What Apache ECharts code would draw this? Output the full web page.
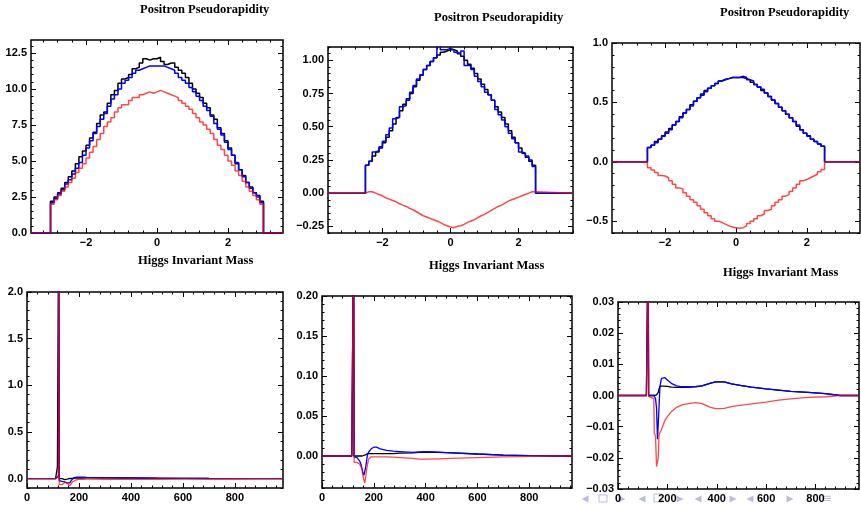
<!DOCTYPE html>
<html>
<head>
<meta charset="utf-8">
<script src="https://cdn.jsdelivr.net/npm/echarts@6/dist/echarts.min.js"></script>
<style>
  html, body { margin: 0; padding: 0; background: #fff; }
  #chart { width: 861px; height: 505px; }
</style>
</head>
<body>
<div id="chart"></div>
<script>
// ---------- Positron pseudorapidity histograms (bin width 0.1) ----------
const etaBinWidth = 0.1;

// column 1: bins from -3.0 to 3.0
const eta1Start = -3.0;
const eta1Black = [2.2,2.5,2.8,3.1,3.5,3.9,4.3,4.8,5.3,5.7, 6.1,6.6,7.0,7.6,8.2,8.4,9.0,9.6,9.9,10.4,
                   10.7,10.8,11.0,11.4,11.5,11.8,12.1,12.0,12.1,12.1, 12.2,11.9,11.7,11.8,11.8,11.5,11.3,11.1,10.8,10.4,
                   10.0,9.7,9.4,9.0,8.7,8.2,7.9,7.3,6.9,6.4, 5.9,5.4,4.8,4.4,4.0,3.5,3.2,2.8,2.6,2.2];
const eta1Blue  = [2.1,2.4,2.7,3.0,3.4,3.7,4.1,4.5,4.9,5.4, 5.9,6.4,6.9,7.4,7.9,8.3,8.8,9.3,9.6,10.0,
                   10.4,10.6,10.8,11.1,11.3,11.4,11.5,11.6,11.6,11.6, 11.6,11.6,11.5,11.4,11.3,11.1,10.8,10.6,10.4,10.1,
                   9.8,9.5,9.2,8.8,8.5,8.1,7.6,7.2,6.8,6.3, 5.8,5.4,4.9,4.4,3.9,3.5,3.1,2.8,2.5,2.1];
const eta1Red   = [2.0,2.3,2.6,2.9,3.2,3.5,3.8,4.2,4.5,4.8, 5.2,5.6,6.0,6.5,6.9,7.4,7.7,8.0,8.4,8.7,
                   8.9,8.9,9.2,9.4,9.4,9.6,9.7,9.8,9.7,9.8, 9.9,9.8,9.7,9.6,9.5,9.4,9.2,9.0,8.8,8.6,
                   8.3,8.0,7.7,7.5,7.2,6.9,6.5,6.1,5.8,5.4, 5.0,4.7,4.3,4.0,3.6,3.2,2.9,2.6,2.3,2.0];

// column 2: bins from -2.5 to 2.5
const eta2Start = -2.5;
const eta2Black = [0.21,0.24,0.28,0.31,0.34,0.38,0.42,0.47,0.52,0.57, 0.62,0.67,0.71,0.75,0.80,0.85,0.89,0.93,0.96,0.99,
                   1.02,1.04,1.06,1.07,1.08,1.08,1.07,1.05,1.03,1.00, 0.97,0.94,0.90,0.86,0.82,0.78,0.74,0.70,0.65,0.61,
                   0.57,0.52,0.47,0.42,0.38,0.34,0.30,0.27,0.24,0.21];
const eta2Blue  = [0.21,0.24,0.31,0.32,0.35,0.39,0.44,0.49,0.56,0.57, 0.65,0.66,0.70,0.76,0.81,0.86,0.89,0.93,0.96,0.99,
                   1.02,1.13,1.08,1.08,1.09,1.08,1.06,1.05,1.07,0.96, 0.96,0.93,0.88,0.84,0.80,0.76,0.74,0.70,0.63,0.59,
                   0.55,0.50,0.45,0.41,0.38,0.31,0.30,0.28,0.25,0.20];
const eta2Red   = [0.01,0.01,0.0,-0.01,-0.02,-0.035,-0.045,-0.055,-0.065,-0.08, -0.09,-0.10,-0.115,-0.125,-0.14,-0.155,-0.17,-0.18,-0.19,-0.20,
                   -0.21,-0.22,-0.235,-0.245,-0.255,-0.26,-0.25,-0.245,-0.235,-0.22, -0.21,-0.20,-0.185,-0.17,-0.16,-0.145,-0.13,-0.115,-0.10,-0.09,
                   -0.075,-0.06,-0.05,-0.04,-0.03,-0.02,-0.01,0.0,0.01,0.01];

// column 3: bins from -2.5 to 2.5
const eta3Start = -2.5;
const eta3Black = [0.12,0.14,0.17,0.19,0.22,0.25,0.28,0.31,0.34,0.38, 0.41,0.44,0.48,0.51,0.54,0.57,0.60,0.62,0.64,0.66,
                   0.68,0.69,0.70,0.71,0.71,0.71,0.71,0.70,0.69,0.67, 0.65,0.63,0.60,0.58,0.55,0.52,0.49,0.46,0.43,0.40,
                   0.37,0.34,0.30,0.27,0.24,0.22,0.19,0.17,0.15,0.13];
const eta3Blue  = [0.12,0.14,0.16,0.19,0.215,0.24,0.27,0.31,0.34,0.37, 0.41,0.44,0.47,0.51,0.54,0.56,0.59,0.62,0.64,0.66,
                   0.68,0.695,0.70,0.71,0.71,0.71,0.72,0.71,0.69,0.68, 0.65,0.63,0.61,0.58,0.55,0.52,0.49,0.46,0.43,0.40,
                   0.37,0.34,0.31,0.27,0.24,0.215,0.19,0.17,0.15,0.13];
const eta3Red   = [-0.05,-0.07,-0.09,-0.115,-0.12,-0.135,-0.16,-0.19,-0.22,-0.23, -0.26,-0.29,-0.32,-0.34,-0.37,-0.40,-0.43,-0.455,-0.48,-0.50,
                   -0.51,-0.525,-0.54,-0.55,-0.555,-0.56,-0.555,-0.54,-0.52,-0.50, -0.48,-0.455,-0.44,-0.41,-0.40,-0.37,-0.34,-0.32,-0.29,-0.275,
                   -0.25,-0.22,-0.19,-0.16,-0.15,-0.135,-0.12,-0.105,-0.085,-0.065];

// ---------- Higgs invariant mass curves (resonance peak runs off the top) ----------
const mass4  = [0,110,116,117,121,122,123,124,130,135, 140,145,150,155,160,165,170,175,180,190,
                200,215,230,250,300,350,400,450,500,600, 700,800,900];
const m4Black= [0,0,0,0.13,0.13,3,3,0,0,0, -0.005,-0.01,-0.01,-0.005,0,0.002,0.003,0.004,0.004,0.005,
                0.006,0.007,0.008,0.008,0.008,0.007,0.007,0.006,0.005,0.004, 0.002,0.001,0];
const m4Blue = [0,0,0,0.02,0.03,3,3,-0.02,-0.025,-0.03, -0.03,-0.035,-0.04,-0.045,-0.05,-0.045,-0.02,0.0,0.01,0.015,
                0.016,0.015,0.013,0.012,0.01,0.009,0.008,0.007,0.006,0.004, 0.002,0.001,0];
const m4Red  = [0,0,0,0.01,0.02,3,3,-0.06,-0.065,-0.065, -0.05,-0.04,-0.04,-0.05,-0.065,-0.075,-0.055,-0.035,-0.025,-0.012,
                -0.008,-0.006,-0.005,-0.005,-0.006,-0.007,-0.008,-0.007,-0.006,-0.004, -0.002,-0.001,0];

const mass5  = [0,115,121,122,123,124,130,135,140,145, 150,155,158,162,165,168,172,176,180,185,
                190,200,210,225,250,275,300,350,375,400, 450,500,600,700,800,900];
const m5Black= [0,0,0.001,0.3,0.3,0,0,0,0,0, 0,0,0,0.0005,0.001,0.002,0.003,0.003,0.003,0.003,
                0.003,0.003,0.003,0.003,0.003,0.003,0.0035,0.004,0.0045,0.005, 0.0045,0.004,0.0025,0.0012,0.0004,0];
const m5Blue = [0,0,0.001,0.3,0.3,-0.001,-0.001,-0.002,-0.003,-0.006, -0.010,-0.016,-0.021,-0.024,-0.022,-0.015,-0.006,0.002,0.005,0.007,
                0.009,0.011,0.011,0.009,0.007,0.006,0.0055,0.0045,0.005,0.0055, 0.0048,0.004,0.0025,0.0012,0.0004,0];
const m5Red  = [0,0,0.002,0.3,0.3,-0.008,-0.008,-0.008,-0.009,-0.010, -0.013,-0.018,-0.025,-0.030,-0.034,-0.028,-0.018,-0.010,-0.004,-0.002,
                -0.001,-0.001,-0.001,-0.001,-0.0012,-0.0015,-0.002,-0.003,-0.004,-0.004, -0.0035,-0.003,-0.002,-0.001,-0.0005,0];

const mass6  = [0,115,121,122,123,124,145,147,152,156, 160,163,166,170,176,183,190,200,216,237,
                260,291,315,340,372,395,430,460,500,540, 600,650,700,770,840,900];
const m6Black= [0,0,0,0.05,0.05,0,0,0,0,0.0002, 0.0007,0.001,0.002,0.003,0.003,0.003,0.003,0.0029,0.0027,0.0026,
                0.0026,0.0027,0.0028,0.0031,0.0039,0.0044,0.0044,0.0037,0.0032,0.0027, 0.0021,0.0017,0.0013,0.001,0.0006,0];
const m6Blue = [0,0,0,0.05,0.05,0,0,0,-0.001,-0.004, -0.014,-0.0142,-0.004,0.003,0.0055,0.006,0.0057,0.005,0.0039,0.0031,
                0.0028,0.0028,0.0029,0.0031,0.0039,0.0044,0.0044,0.0037,0.0032,0.0027, 0.0021,0.0017,0.0013,0.001,0.0006,0];
const m6Red  = [0,0,0,0.05,0.05,-0.0003,-0.001,-0.012,-0.013,-0.0228, -0.0228,-0.02,-0.013,-0.0118,-0.011,-0.0094,-0.008,-0.0068,-0.0052,-0.0038,
                -0.003,-0.0025,-0.0023,-0.0026,-0.0037,-0.0042,-0.0041,-0.0036,-0.0031,-0.0027, -0.0021,-0.0015,-0.0011,-0.0006,-0.0004,0];

// ---------- tick labels ----------
const etaTicks   = [-2, 0, 2];
const massTicks  = [0, 200, 400, 600, 800];
const y1Ticks    = [0, 2.5, 5, 7.5, 10, 12.5];
const y2Ticks    = [-0.25, 0, 0.25, 0.5, 0.75, 1.0];
const y3Ticks    = [-0.5, 0, 0.5, 1.0];
const y4Ticks    = [0, 0.5, 1.0, 1.5, 2.0];
const y5Ticks    = [0, 0.05, 0.10, 0.15, 0.20];
const y6Ticks    = [-0.03, -0.02, -0.01, 0, 0.01, 0.02, 0.03];

const titleEta  = 'Positron Pseudorapidity';
const titleMass = 'Higgs Invariant Mass';

// ---------- helpers ----------
const COLORS = { black: '#000000', blue: '#0000ff', red: '#ff0000' };

// Step outline of a histogram, closed down to zero at both ends
function histPoints(start, values, xmin, xmax) {
  const pts = [[xmin, 0]];
  values.forEach((v, i) => pts.push([+(start + i * etaBinWidth).toFixed(6), v]));
  pts.push([+(start + values.length * etaBinWidth).toFixed(6), 0]);
  pts.push([xmax, 0]);
  return pts;
}
function curvePoints(masses, values, xmax) {
  const pts = masses.map((m, i) => [m, values[i]]);
  pts.push([xmax, 0]);
  return pts;
}
function minorValues(min, max, step, majors) {
  const out = [];
  for (let k = Math.ceil(min / step - 1e-9); k * step <= max + 1e-9; k++) {
    const v = +(k * step).toFixed(6);
    if (!majors.some(m => Math.abs(m - v) < 1e-9)) out.push(v);
  }
  return out;
}
function fmt(v, dec) {
  const s = Math.abs(v).toFixed(dec);
  return (v < -1e-12 ? '\u2212' : '') + s;
}

const labelFont = { color: '#000', fontFamily: 'Liberation Sans', fontWeight: 'bold', fontSize: 11 };

function axesFor(dim, gi, spec) {
  const [pA, pB] = dim === 'x' ? ['bottom', 'top'] : ['left', 'right'];
  const minors = minorValues(spec.min, spec.max, spec.minor, spec.ticks);
  const mk = (pos, vals, len, withLabel) => ({
    type: 'value', gridIndex: gi, position: pos, min: spec.min, max: spec.max,
    splitLine: { show: false },
    axisLine: { show: false, onZero: false },
    axisTick: { show: true, inside: true, length: len, customValues: vals,
                lineStyle: { color: '#000', width: 1 } },
    axisLabel: withLabel
      ? Object.assign({ show: true, customValues: spec.ticks, margin: 4,
                        formatter: v => fmt(v, spec.dec) }, labelFont)
      : { show: false }
  });
  return [mk(pA, spec.ticks, 5, true), mk(pA, minors, 2.5, false),
          mk(pB, spec.ticks, 5, false), mk(pB, minors, 2.5, false)];
}

// ---------- panels ----------
const panels = [
  { grid: { left: 31, top: 40, width: 252, height: 193 },
    x: { min: -3.55, max: 3.55, ticks: etaTicks, minor: 0.4, dec: 0 },
    y: { min: 0, max: 13.4, ticks: y1Ticks, minor: 0.5, dec: 1 },
    title: { text: titleEta, x: 140, y: 10 },
    hist: { start: eta1Start, black: eta1Black, blue: eta1Blue, red: eta1Red } },
  { grid: { left: 328, top: 47, width: 245, height: 186 },
    x: { min: -3.6, max: 3.6, ticks: etaTicks, minor: 0.4, dec: 0 },
    y: { min: -0.30, max: 1.10, ticks: y2Ticks, minor: 0.05, dec: 2 },
    title: { text: titleEta, x: 434, y: 18 },
    hist: { start: eta2Start, black: eta2Black, blue: eta2Blue, red: eta2Red } },
  { grid: { left: 612, top: 43, width: 248, height: 190 },
    x: { min: -3.5, max: 3.5, ticks: etaTicks, minor: 0.4, dec: 0 },
    y: { min: -0.6, max: 1.0, ticks: y3Ticks, minor: 0.1, dec: 1 },
    title: { text: titleEta, x: 720, y: 13 },
    hist: { start: eta3Start, black: eta3Black, blue: eta3Blue, red: eta3Red } },
  { grid: { left: 27, top: 292, width: 256, height: 196 },
    x: { min: 0, max: 985, ticks: massTicks, minor: 40, dec: 0 },
    y: { min: -0.1, max: 2.0, ticks: y4Ticks, minor: 0.1, dec: 1 },
    title: { text: titleMass, x: 138, y: 261 },
    curve: { m: mass4, black: m4Black, blue: m4Blue, red: m4Red } },
  { grid: { left: 322, top: 296, width: 250, height: 192 },
    x: { min: 0, max: 965, ticks: massTicks, minor: 40, dec: 0 },
    y: { min: -0.04, max: 0.20, ticks: y5Ticks, minor: 0.01, dec: 2 },
    title: { text: titleMass, x: 429, y: 266 },
    curve: { m: mass5, black: m5Black, blue: m5Blue, red: m5Red } },
  { grid: { left: 618, top: 302, width: 241, height: 187 },
    x: { min: 0, max: 976, ticks: massTicks, minor: 40, dec: 0 },
    y: { min: -0.03, max: 0.03, ticks: y6Ticks, minor: 0.002, dec: 2 },
    title: { text: titleMass, x: 723, y: 273 },
    curve: { m: mass6, black: m6Black, blue: m6Blue, red: m6Red } }
];

const grid = [], xAxis = [], yAxis = [], series = [], graphic = [];
panels.forEach((p, gi) => {
  grid.push(Object.assign({ show: true, borderColor: '#000', borderWidth: 1.5,
                            backgroundColor: 'transparent', containLabel: false }, p.grid));
  const xi = xAxis.length, yi = yAxis.length;
  xAxis.push(...axesFor('x', gi, p.x));
  yAxis.push(...axesFor('y', gi, p.y));
  ['black', 'blue', 'red'].forEach(name => {
    const data = p.hist
      ? histPoints(p.hist.start, p.hist[name], p.x.min, p.x.max)
      : curvePoints(p.curve.m, p.curve[name], p.x.max);
    series.push({
      type: 'line', xAxisIndex: xi, yAxisIndex: yi, data,
      step: p.hist ? 'end' : false, showSymbol: false, symbol: 'none',
      clip: true, silent: true, animation: false,
      lineStyle: { color: COLORS[name], width: p.hist ? 1.5 : 1.3,
                   opacity: name === 'red' ? 0.72 : 1 },
      z: name === 'red' ? 4 : (name === 'blue' ? 3 : 2)
    });
  });
  graphic.push({ type: 'text', x: p.title.x, y: p.title.y,
    style: { text: p.title.text, fill: '#000', font: 'bold 12.5px "Liberation Serif"',
             textVerticalAlign: 'middle' } });
});

// Slide navigation symbols along the bottom edge
const navColor = '#b9bde0';
function tri(cx, cy, dir) {
  const s = 3.5;
  return { type: 'polygon', shape: { points: dir < 0
      ? [[cx - s, cy], [cx + s, cy - s], [cx + s, cy + s]]
      : [[cx + s, cy], [cx - s, cy - s], [cx - s, cy + s]] },
    style: { fill: navColor }, z: 0 };
}
const navY = 499;
graphic.push(tri(585, navY, -1), tri(622, navY, 1), tri(642, navY, -1), tri(680, navY, 1),
             tri(698, navY, -1), tri(733, navY, 1), tri(750, navY, -1), tri(790, navY, 1));
graphic.push({ type: 'rect', shape: { x: 599, y: navY - 4, width: 8, height: 7 },
               style: { fill: 'none', stroke: navColor, lineWidth: 1 }, z: 0 });
graphic.push({ type: 'rect', shape: { x: 654, y: navY - 5, width: 8, height: 8 },
               style: { fill: 'none', stroke: navColor, lineWidth: 1 }, z: 0 });
graphic.push({ type: 'text', x: 827, y: navY, style: { text: '\u2261', fill: navColor,
               font: '12px "DejaVu Sans"', textAlign: 'center', textVerticalAlign: 'middle' }, z: 0 });

const chart = echarts.init(document.getElementById('chart'), null, { renderer: 'canvas' });
chart.setOption({ animation: false, backgroundColor: '#fff', grid, xAxis, yAxis, series, graphic });
</script>
</body>
</html>
